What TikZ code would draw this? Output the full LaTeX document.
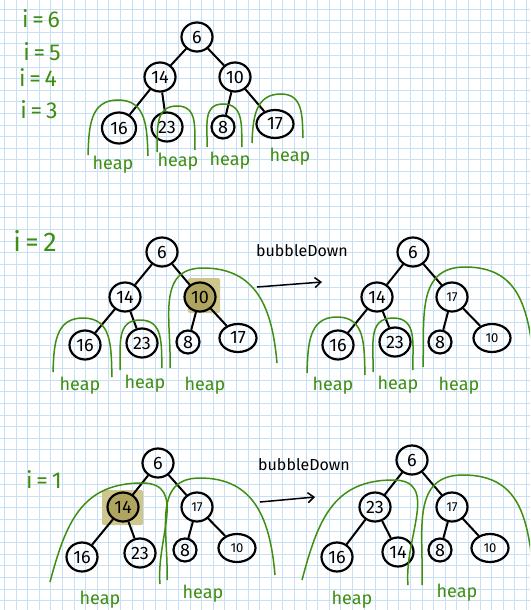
\documentclass[tikz,border=0pt]{standalone}
\usepackage{fontspec}
\setmainfont{Fira Sans}
\usetikzlibrary{shapes.geometric,arrows.meta}
\definecolor{gridblue}{RGB}{200,224,246}
\definecolor{hgreen}{RGB}{62,142,18}
\definecolor{hlsq}{RGB}{206,198,140}
\definecolor{hlnode}{RGB}{176,165,95}
\tikzset{
  nd/.style={ellipse, draw=black, line width=2.2pt, minimum width=31pt, minimum height=29pt, inner sep=0pt, font=\fontsize{18}{18}\selectfont},
  smn/.style={nd, minimum width=23pt, minimum height=23pt},
  wdn/.style={nd, minimum width=37pt, minimum height=28pt},
  tinyt/.style={font=\fontsize{13}{13}\selectfont},
  hlnd/.style={fill=hlnode},
  hlsquare/.style={fill=hlsq, rounded corners=2pt},
  edge/.style={line width=2pt},
  heaparc/.style={draw=hgreen, line width=1.5pt, looseness=1.15},
  heaplbl/.style={text=hgreen, font=\fontsize{18}{18}\selectfont},
  ilbl/.style={text=hgreen, font=\fontsize{23}{23}\selectfont},
  bdlbl/.style={font=\fontsize{16}{16}\selectfont},
  barrow/.style={line width=1.5pt, -{Straight Barb[length=6pt,width=10pt,line width=1.5pt]}},
  gridln/.style={draw=gridblue, line width=0.8pt}
}
\begin{document}
\begin{tikzpicture}[x=1pt,y=1pt]
\useasboundingbox (0,0) rectangle (530,-610);
\clip (0,0) rectangle (530,-610);
\fill[white] (0,0) rectangle (530,-610);
% grid paper
\foreach \i in {0,...,45} \draw[gridln] ({4.3+11.6*\i},0) -- ({4.3+11.6*\i},-610);
\foreach \j in {0,...,51} \draw[gridln] (0,{-9-11.6*\j}) -- (530,{-9-11.6*\j});

% ---------------- section 1 ----------------
\node[ilbl] (i6) at (41,-19) {i\,=\,6};
\node[ilbl] (i5) at (42,-52) {i\,=\,5};
\node[ilbl] (i4) at (38,-78) {i\,=\,4};
\node[ilbl] (i3) at (39,-110) {i\,=\,3};

\node[nd] (a6) at (197,-37) {6};
\node[nd] (a14) at (160,-77) {14};
\node[nd] (a10) at (235,-77) {10};
\node[nd, minimum width=34pt, minimum height=31pt] (a16) at (119,-128) {16};
\node[nd] (a23) at (167,-127) {23};
\node[smn] (a8) at (223,-127) {8};
\node[wdn] (a17) at (275,-124) {17};
\draw[edge] (a6) -- (a14);
\draw[edge] (a6) -- (a10);
\draw[edge] (a14) -- (a16);
\draw[edge] (a14) -- (a23);
\draw[edge] (a10) -- (a8);
\draw[edge] (a10) -- (a17);

\draw[heaparc] (88,-155) to[out=88,in=180] (118,-100) to[out=0,in=92] (148,-156);
\draw[heaparc] (157,-152) to[out=88,in=180] (177,-106) to[out=0,in=92] (195,-150);
\draw[heaparc] (207,-147) to[out=88,in=180] (223,-104) to[out=0,in=92] (242,-147);
\draw[heaparc] (252,-143) to[out=88,in=180] (281,-94) to[out=0,in=92] (303,-138);
\node[heaplbl] (h1) at (113,-165) {heap};
\node[heaplbl] (h2) at (178,-162) {heap};
\node[heaplbl] (h3) at (230,-161) {heap};
\node[heaplbl] (h4) at (290,-157) {heap};

% ---------------- section 2 ----------------
\node[ilbl, font=\fontsize{27}{27}\selectfont] (i2) at (35,-241) {i\,=\,2};
\fill[hlsquare] (188,-278) rectangle (220,-313);
\node[nd] (b6) at (162,-252) {6};
\node[nd] (b14) at (125,-297) {14};
\node[nd, hlnd] (b10) at (200,-297) {10};
\node[nd] (b16) at (85,-345) {16};
\node[nd] (b23) at (142,-343) {23};
\node[smn] (b8) at (188,-342) {8};
\node[wdn] (b17) at (238,-338) {17};
\draw[edge] (b6) -- (b14);
\draw[edge] (b6) -- (b10);
\draw[edge] (b14) -- (b16);
\draw[edge] (b14) -- (b23);
\draw[edge] (b10) -- (b8);
\draw[edge] (b10) -- (b17);
\draw[heaparc] (53,-372) to[out=88,in=180] (83,-318) to[out=0,in=92] (112,-377);
\draw[heaparc] (120,-370) to[out=88,in=180] (140,-320) to[out=0,in=92] (162,-368);
\draw[heaparc] (170,-368) to[out=88,in=180] (203,-268) to[out=0,in=95] (277,-363);
\node[heaplbl] (h5) at (80,-386) {heap};
\node[heaplbl] (h6) at (145,-384) {heap};
\node[heaplbl] (h7) at (205,-386) {heap};

\node[bdlbl] (bd1) at (302,-251) {bubbleDown};
\coordinate (ar1s) at (257,-287);
\coordinate (ar1e) at (322,-282);
\draw[barrow] (ar1s) -- (ar1e);

\node[nd] (c6) at (413,-252) {6};
\node[nd] (c14) at (377,-297) {14};
\node[nd, tinyt] (c17) at (452,-297) {17};
\node[nd] (c16) at (338,-345) {16};
\node[nd] (c23) at (395,-342) {23};
\node[smn] (c8) at (440,-342) {8};
\node[wdn, tinyt] (c10) at (492,-338) {10};
\draw[edge] (c6) -- (c14);
\draw[edge] (c6) -- (c17);
\draw[edge] (c14) -- (c16);
\draw[edge] (c14) -- (c23);
\draw[edge] (c17) -- (c8);
\draw[edge] (c17) -- (c10);
\draw[heaparc] (307,-373) to[out=88,in=180] (337,-317) to[out=0,in=92] (365,-375);
\draw[heaparc] (373,-372) to[out=88,in=180] (393,-318) to[out=0,in=92] (413,-370);
\draw[heaparc] (423,-367) to[out=88,in=180] (465,-267) to[out=0,in=100] (540,-400);
\node[heaplbl] (h8) at (333,-386) {heap};
\node[heaplbl] (h9) at (398,-385) {heap};
\node[heaplbl] (h10) at (459,-386) {heap};

% ---------------- section 3 ----------------
\node[ilbl] (i1) at (44,-480) {i\,=\,1};
\fill[hlsquare] (102,-490) rectangle (143,-525);
\node[nd] (d6) at (158,-463) {6};
\node[nd, hlnd] (d14) at (123,-507) {14};
\node[nd, tinyt] (d17) at (197,-507) {17};
\node[nd] (d16) at (82,-557) {16};
\node[nd] (d23) at (140,-553) {23};
\node[smn] (d8) at (185,-550) {8};
\node[wdn, tinyt] (d10) at (237,-548) {10};
\draw[edge] (d6) -- (d14);
\draw[edge] (d6) -- (d17);
\draw[edge] (d14) -- (d16);
\draw[edge] (d14) -- (d23);
\draw[edge] (d17) -- (d8);
\draw[edge] (d17) -- (d10);
\draw[heaparc] (50,-582) to[out=75,in=180] (142,-483) to[out=0,in=95] (160,-584);
\draw[heaparc] (167,-580) to[out=88,in=180] (200,-478) to[out=0,in=95] (275,-575);
\node[heaplbl] (h11) at (100,-600) {heap};
\node[heaplbl] (h12) at (203,-594) {heap};

\node[bdlbl] (bd2) at (304,-465) {bubbleDown};
\coordinate (ar2s) at (260,-502);
\coordinate (ar2e) at (315,-497);
\draw[barrow] (ar2s) -- (ar2e);

\node[nd] (e6) at (412,-460) {6};
\node[nd] (e23) at (375,-507) {23};
\node[nd, tinyt] (e17) at (452,-507) {17};
\node[nd] (e16) at (337,-557) {16};
\node[nd] (e14) at (398,-552) {14};
\node[smn] (e8) at (440,-550) {8};
\node[wdn, tinyt] (e10) at (490,-548) {10};
\draw[edge] (e6) -- (e23);
\draw[edge] (e6) -- (e17);
\draw[edge] (e23) -- (e16);
\draw[edge] (e23) -- (e14);
\draw[edge] (e17) -- (e8);
\draw[edge] (e17) -- (e10);
\draw[heaparc] (302,-580) to[out=75,in=180] (393,-480) to[out=0,in=95] (408,-585);
\draw[heaparc] (422,-585) to[out=88,in=180] (463,-475) to[out=0,in=100] (540,-620);
\node[heaplbl] (h13) at (352,-600) {heap};
\node[heaplbl] (h14) at (457,-593) {heap};
\end{tikzpicture}
\end{document}
